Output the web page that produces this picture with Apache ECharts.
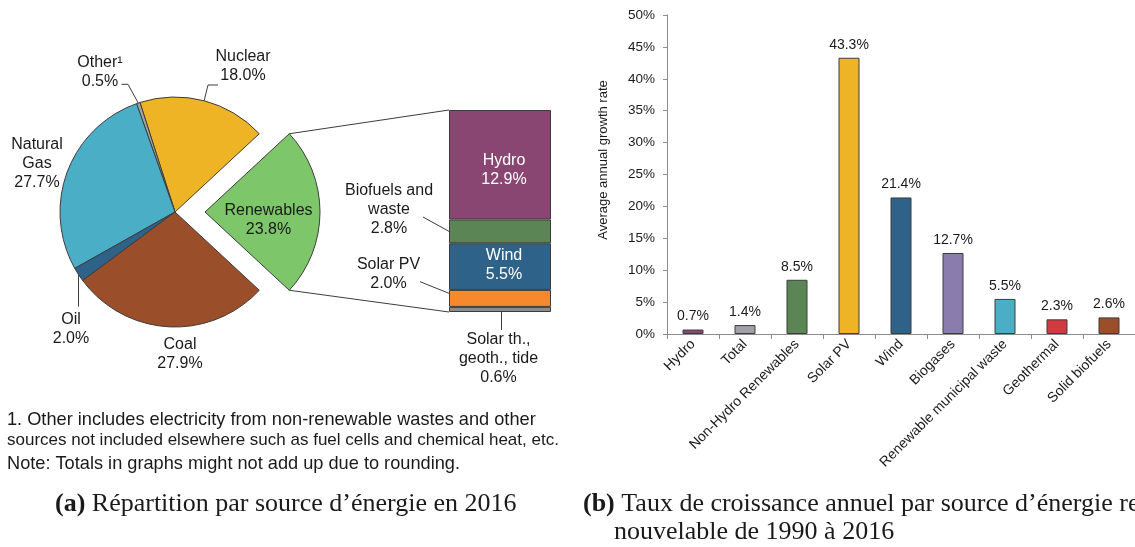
<!DOCTYPE html>
<html><head><meta charset="utf-8">
<script src="https://cdn.jsdelivr.net/npm/echarts@6/dist/echarts.min.js"></script>
<style>html,body{margin:0;padding:0;background:#fff}#c{width:1135px;height:547px}</style>
</head><body><div id="c"></div>
<script>
// ---------- DATA ----------
const pieNames  = ['Renewables', 'Nuclear', 'Other¹', 'Natural\nGas', 'Oil', 'Coal'];
const pieValues = [23.8, 18.0, 0.5, 27.7, 2.0, 27.9];
const pieColors = ['#7DC66A', '#EFB326', '#A3A3A6', '#4AAFC6', '#2E6289', '#9A4F2A'];

const renewNames  = ['Solar th.,\ngeoth., tide', 'Solar PV', 'Wind', 'Biofuels and\nwaste', 'Hydro'];
const renewValues = [0.6, 2.0, 5.5, 2.8, 12.9];
const renewColors = ['#8C8C8C', '#F5892B', '#2E6289', '#5B8554', '#8A4673'];

const growthCategories = ['Hydro', 'Total', 'Non-Hydro Renewables', 'Solar PV', 'Wind', 'Biogases', 'Renewable municipal waste', 'Geothermal', 'Solid biofuels'];
const growthValues = [0.7, 1.4, 8.5, 43.3, 21.4, 12.7, 5.5, 2.3, 2.6];
const growthColors = ['#8A4673', '#A19FA6', '#5B8554', '#EFB326', '#2E6289', '#8A7DAE', '#4AAFC6', '#D13A43', '#9A4F2A'];

const yMin = 0, yMax = 50, yStep = 5;

const footnotes = [
  '1. Other includes electricity from non-renewable wastes and other',
  'sources not included elsewhere such as fuel cells and chemical heat, etc.',
  'Note: Totals in graphs might not add up due to rounding.'
];
const captionA = ['(a)', 'Répartition par source d’énergie en 2016'];
const captionB = ['(b)', 'Taux de croissance annuel par source d’énergie re-', 'nouvelable de 1990 à 2016'];

// ---------- LAYOUT ----------
const SANS = 'Liberation Sans', SERIF = 'Liberation Serif';
const TXT = '#1a1a1a', EDGE = '#3c3c3c';
const PIE_C = [175, 212], PIE_R = 115, PIE_OFF = 30;
const RG = {left: 449, top: 110, width: 102, height: 202};

const pieLabelPos = {
  'Nuclear': [243, 66], 'Other¹': [100, 72.5],
  'Natural\nGas': [37, 164], 'Oil': [71, 329], 'Coal': [180, 354]
};
const pieLabelShift = {'Renewables': [3, 8]};
const pieLeaders = {
  'Nuclear': [[208, 85], [218, 85]],
  'Other¹': [[128, 84.3], [121.5, 84.3]],
  'Oil': [[null, 306.7]]
};
const renewLabelPos = {
  'Hydro': [504, 170], 'Wind': [504, 264.7], 'Biofuels and\nwaste': [389, 209.7],
  'Solar PV': [388.5, 274.2], 'Solar th.,\ngeoth., tide': [498.5, 358.6]
};

const pieTotal = pieValues.reduce((a, b) => a + b, 0);
const pieStart = -pieValues[0] / pieTotal * 180;
function sliceAngle(i, frac) {
  let cum = 0; for (let k = 0; k < i; k++) cum += pieValues[k];
  return pieStart + (cum + pieValues[i] * frac) / pieTotal * 360;
}
function arcPt(c, i, frac) {
  const a = sliceAngle(i, frac) * Math.PI / 180;
  return [c[0] + PIE_R * Math.cos(a), c[1] - PIE_R * Math.sin(a)];
}

const pct = v => v.toFixed(1) + '%';

const chart = echarts.init(document.getElementById('c'));

const renewTotal = renewValues.reduce((a, b) => a + b, 0);

const renewSeries = renewNames.map((n, i) => ({
  type: 'bar', name: n, stack: 'ren', xAxisIndex: 0, yAxisIndex: 0,
  barWidth: '100%', data: [renewValues[i]],
  itemStyle: {color: renewColors[i], borderColor: EDGE, borderWidth: 1},
  label: {
    show: true, position: 'inside', formatter: n + '\n' + pct(renewValues[i]),
    color: (n === 'Hydro' || n === 'Wind') ? '#ffffff' : TXT,
    fontFamily: SANS, fontSize: 16, lineHeight: 19
  },
  labelLayout: () => ({x: renewLabelPos[n][0], y: renewLabelPos[n][1], align: 'center', verticalAlign: 'middle'}),
  emphasis: {disabled: true}, silent: true
}));

const option = {
  animation: false,
  textStyle: {fontFamily: SANS},
  grid: [
    {left: RG.left, top: RG.top, width: RG.width, height: RG.height},
    {left: 667, top: 15, width: 473.5, height: 319}
  ],
  xAxis: [
    {gridIndex: 0, type: 'category', data: [''], show: false},
    {gridIndex: 1, type: 'category', data: growthCategories,
     axisLine: {lineStyle: {color: '#8c8c8c', width: 1}},
     axisTick: {show: true, length: 5, interval: 0, lineStyle: {color: '#8c8c8c'}},
     axisLabel: {interval: 0, rotate: 45, margin: 8, fontSize: 14, color: TXT, fontFamily: SANS}}
  ],
  yAxis: [
    {gridIndex: 0, type: 'value', min: 0, max: renewTotal, show: false},
    {gridIndex: 1, type: 'value', min: yMin, max: yMax, interval: yStep,
     name: 'Average annual growth rate', nameLocation: 'middle', nameGap: 57,
     nameTextStyle: {fontSize: 13, color: TXT, fontFamily: SANS, padding: [0, 0, 0, 29]},
     axisLine: {show: true, lineStyle: {color: '#8c8c8c', width: 1}},
     axisTick: {show: true, length: 4, lineStyle: {color: '#8c8c8c'}},
     splitLine: {show: false},
     axisLabel: {formatter: '{value}%', fontSize: 13.5, margin: 12, color: TXT, fontFamily: SANS}}
  ],
  series: [
    {
      type: 'pie', center: PIE_C, radius: PIE_R,
      startAngle: pieStart + 360, clockwise: false,
      selectedMode: 'single', selectedOffset: PIE_OFF,
      avoidLabelOverlap: false, silent: true, emphasis: {disabled: true},
      itemStyle: {borderColor: EDGE, borderWidth: 1},
      label: {show: true, position: 'outside', color: TXT, fontFamily: SANS, fontSize: 16, lineHeight: 19,
              formatter: p => p.name + '\n' + pct(p.value)},
      labelLine: {show: true, lineStyle: {color: EDGE, width: 1}},
      labelLayout: p => {
        const name = pieNames[p.dataIndex];
        if (pieLabelShift[name]) return {dx: pieLabelShift[name][0], dy: pieLabelShift[name][1]};
        const pos = pieLabelPos[name];
        if (!pos) return {};
        const res = {x: pos[0], y: pos[1], align: 'center', verticalAlign: 'middle'};
        if (pieLeaders[name]) {
          const s = arcPt(PIE_C, p.dataIndex, 0.5);
          res.labelLinePoints = [s].concat(pieLeaders[name].map(q => [q[0] == null ? s[0] : q[0], q[1]]));
        }
        return res;
      },
      data: pieNames.map((n, i) => ({
        name: n, value: pieValues[i], selected: i === 0,
        itemStyle: {color: pieColors[i]},
        label: i === 0 ? {position: 'inside', align: 'center', verticalAlign: 'middle'} : undefined,
        labelLine: {show: !!pieLeaders[n]}
      }))
    },
    ...renewSeries,
    {
      type: 'bar', xAxisIndex: 1, yAxisIndex: 1, barWidth: 21, silent: true,
      emphasis: {disabled: true},
      data: growthValues.map((v, i) => ({value: v, itemStyle: {color: growthColors[i]}})),
      itemStyle: {borderColor: EDGE, borderWidth: 1},
      label: {show: true, position: 'top', distance: 6, fontSize: 14, color: TXT, fontFamily: SANS,
              formatter: p => pct(p.value)}
    }
  ]
};
chart.setOption(option);

// ---------- annotations computed from the drawn geometry ----------
const yR = v => chart.convertToPixel({yAxisIndex: 0}, v);
const xR = chart.convertToPixel({xAxisIndex: 0}, 0);
const barLeft = RG.left;
const cumBefore = i => renewValues.slice(0, i).reduce((a, b) => a + b, 0);
const explodedC = [PIE_C[0] + PIE_OFF, PIE_C[1]];
const topV = arcPt(explodedC, 0, 1), botV = arcPt(explodedC, 0, 0);
const line = (pts) => ({type: 'polyline', shape: {points: pts}, style: {stroke: EDGE, lineWidth: 1, fill: null}, silent: true});

const graphics = [
  line([topV, [barLeft, yR(renewTotal)]]),
  line([botV, [barLeft, yR(0)]]),
  line([[423, 217], [barLeft, yR(cumBefore(3) + renewValues[3] * 0.5)]]),
  line([[420, 281.7], [barLeft, yR(cumBefore(1) + renewValues[1] * 0.8)]]),
  line([[xR + 1.5, yR(0)], [xR + 1.5, 330]])
];
const fnY = [420, 440.5, 464];
const fnSize = [18.2, 17, 18.2];
footnotes.forEach((t, i) => graphics.push({type: 'text', silent: true,
  style: {text: t, x: 7, y: fnY[i], fill: TXT, fontFamily: SANS, fontSize: fnSize[i], verticalAlign: 'middle'}}));
graphics.push({type: 'text', silent: true, style: {
  text: '{b|' + captionA[0] + '} ' + captionA[1], x: 55, y: 504, fill: TXT, fontFamily: SERIF, fontSize: 26, verticalAlign: 'middle',
  rich: {b: {fontWeight: 'bold', fontFamily: SERIF, fontSize: 26, fill: TXT}}}});
graphics.push({type: 'text', silent: true, style: {
  text: '{b|' + captionB[0] + '} ' + captionB[1], x: 583, y: 504, fill: TXT, fontFamily: SERIF, fontSize: 26, verticalAlign: 'middle',
  rich: {b: {fontWeight: 'bold', fontFamily: SERIF, fontSize: 26, fill: TXT}}}});
graphics.push({type: 'text', silent: true, style: {
  text: captionB[2], x: 614, y: 532, fill: TXT, fontFamily: SERIF, fontSize: 26, verticalAlign: 'middle'}});

chart.setOption({graphic: graphics});
</script>
</body></html>
